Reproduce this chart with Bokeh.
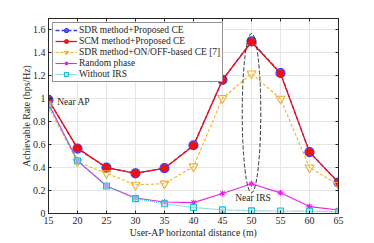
from bokeh.plotting import figure
from bokeh.models import LinearAxis, Range1d, Legend, LegendItem, FixedTicker, CustomJSTickFormatter
from bokeh.embed import file_html
from bokeh.resources import INLINE
from bokeh.core.properties import value

distance = [15, 20, 25, 30, 35, 40, 45, 50, 55, 60, 65]
sdr_proposed = [0.99, 0.565, 0.40, 0.35, 0.395, 0.595, 1.165, 1.50, 1.225, 0.535, 0.27]
scm_proposed = [0.99, 0.57, 0.40, 0.35, 0.395, 0.59, 1.165, 1.495, 1.22, 0.535, 0.27]
sdr_onoff = [0.93, 0.45, 0.35, 0.25, 0.26, 0.41, 1.005, 1.22, 1.0, 0.40, 0.25]
random_phase = [0.96, 0.46, 0.24, 0.135, 0.10, 0.095, 0.175, 0.26, 0.18, 0.06, 0.03]
without_irs = [0.95, 0.46, 0.24, 0.13, 0.085, 0.052, 0.032, 0.023, 0.022, 0.02, 0.015]
x_ticks = [15, 20, 25, 30, 35, 40, 45, 50, 55, 60, 65]
y_ticks = [0, 0.2, 0.4, 0.6, 0.8, 1.0, 1.2, 1.4, 1.6]
y_labels = {0: "0", 0.2: "0.2", 0.4: "0.4", 0.6: "0.6", 0.8: "0.8", 1.0: "1", 1.2: "1.2", 1.4: "1.4", 1.6: "1.6"}

FONT = "Liberation Serif"

p = figure(width=358, height=240, x_range=Range1d(15, 65), y_range=Range1d(0, 1.7),
           output_backend="svg", toolbar_location=None,
           min_border_left=48, min_border_right=20, min_border_top=18, min_border_bottom=24)
p.background_fill_color = "white"
p.border_fill_color = "white"
p.outline_line_color = "#262626"
p.outline_line_width = 1

for g in (p.xgrid, p.ygrid):
    g.grid_line_color = "#e6e6e6"
    g.grid_line_width = 1
p.xgrid.ticker = FixedTicker(ticks=x_ticks)
p.ygrid.ticker = FixedTicker(ticks=y_ticks)

p.xaxis.ticker = FixedTicker(ticks=x_ticks)
p.yaxis.ticker = FixedTicker(ticks=y_ticks)
p.yaxis.major_label_overrides = {k: v for k, v in y_labels.items()}
for ax in (p.xaxis[0], p.yaxis[0]):
    ax.axis_line_color = "#262626"
    ax.major_tick_line_color = "#262626"
    ax.major_tick_in = 3
    ax.major_tick_out = 0
    ax.minor_tick_line_color = None
    ax.major_label_text_font = FONT
    ax.major_label_text_font_size = "10px"
    ax.major_label_text_color = "#262626"
    ax.axis_label_text_font = FONT
    ax.axis_label_text_font_size = "9.8px"
    ax.axis_label_text_font_style = "normal"
    ax.axis_label_text_color = "#262626"
p.xaxis.axis_label = "User-AP horizontal distance (m)"
p.yaxis.axis_label = "Achievable Rate (bps/Hz)"
p.xaxis.major_label_standoff = 3
p.xaxis.axis_label_standoff = 0
p.yaxis.major_label_standoff = 3
p.yaxis.axis_label_standoff = -2

blank = CustomJSTickFormatter(code="return ''")
for loc, tk in (("right", y_ticks), ("above", x_ticks)):
    ax = LinearAxis(ticker=FixedTicker(ticks=tk), formatter=blank)
    ax.major_label_standoff = 0
    ax.major_tick_in = 3
    ax.major_tick_out = 0
    ax.minor_tick_line_color = None
    ax.axis_line_color = "#262626"
    ax.major_tick_line_color = "#262626"
    p.add_layout(ax, loc)

blue = "#3a3af0"
red = "#f01010"
orange = "#f0b030"
magenta = "#f020f0"
cyan = "#20c0c8"

l1 = p.line(distance, sdr_proposed, line_color=blue, line_width=1.3, line_dash="4 2")
m1 = p.scatter(distance, sdr_proposed, marker="circle", size=9, line_color=blue, fill_color="#6a5ae0", line_width=1.2)
l2 = p.line(distance, scm_proposed, line_color=red, line_width=1.3)
m2 = p.scatter(distance, scm_proposed, marker="circle", size=7, line_color=red, fill_color=red)
l3 = p.line(distance, sdr_onoff, line_color=orange, line_width=1.1, line_dash="3 2")
m3 = p.scatter(distance, sdr_onoff, marker="inverted_triangle", size=9, line_color=orange, fill_color=None, line_width=1.1)
l4 = p.line(distance, random_phase, line_color=magenta, line_width=1.1)
m4 = p.scatter(distance, random_phase, marker="asterisk", size=6, line_color=magenta, line_width=1.1)
l5 = p.line(distance, without_irs, line_color=cyan, line_width=1.1, line_dash="1 1")
m5 = p.scatter(distance, without_irs, marker="square", size=6, line_color=cyan, fill_color="#a0e0e4", fill_alpha=0.6, line_width=1.1)

p.ellipse(x=[50], y=[0.875], width=3.2, height=1.39, fill_color=None,
          line_color="#333333", line_dash="4 2", line_width=1)

p.text(x=[16.5], y=[0.97], text=["Near AP"], text_font=value(FONT), text_font_size="9.5px",
       text_baseline="middle", text_color="#262626")
p.text(x=[47.2], y=[0.137], text=["Near IRS"], text_font=value(FONT), text_font_size="9.5px",
       text_baseline="middle", text_color="#262626")

legend = Legend(items=[
    LegendItem(label="SDR method+Proposed CE", renderers=[l1, m1]),
    LegendItem(label="SCM method+Proposed CE", renderers=[l2, m2]),
    LegendItem(label="SDR method+ON/OFF-based CE [7]", renderers=[l3, m3]),
    LegendItem(label="Random phase", renderers=[l4, m4]),
    LegendItem(label="Without IRS", renderers=[l5, m5]),
], location="top_left")
legend.label_text_font = FONT
legend.label_text_font_size = "9.5px"
legend.label_text_color = "#262626"
legend.label_height = 10
legend.glyph_height = 10
legend.glyph_width = 22
legend.label_standoff = 2
legend.spacing = 1
legend.padding = 2
legend.margin = 4
legend.border_line_color = "#262626"
legend.border_line_width = 1
legend.background_fill_color = "white"
legend.background_fill_alpha = 1
p.add_layout(legend)

open("out.html", "w").write(file_html(p, INLINE))
